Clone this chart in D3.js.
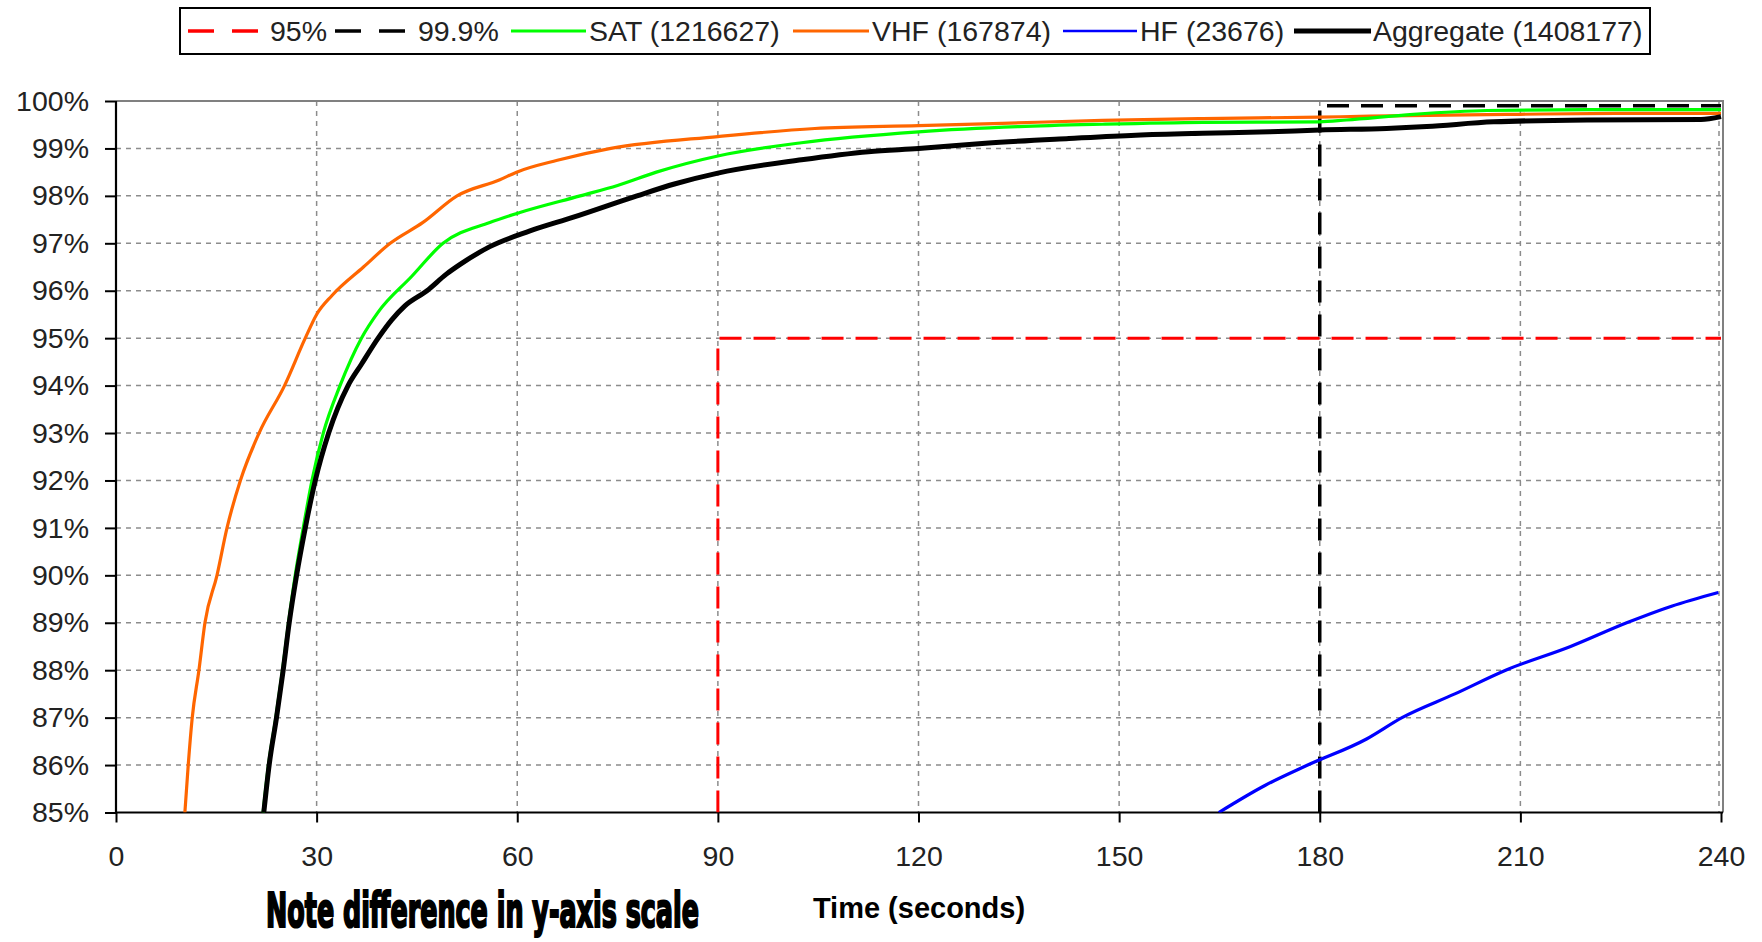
<!DOCTYPE html>
<html><head><meta charset="utf-8">
<script src="https://cdn.jsdelivr.net/npm/d3@7"></script>
<style>body{margin:0;background:#fff}svg{display:block}</style>
</head><body>
<svg id="c" width="1762" height="942"></svg>
<script>
// ---- data (time in seconds, cumulative percent) ----
const xTicks = [0, 30, 60, 90, 120, 150, 180, 210, 240];
const yTicks = [85, 86, 87, 88, 89, 90, 91, 92, 93, 94, 95, 96, 97, 98, 99, 100];
const satData = [[22,85],[22.8,86],[23.9,87],[24.9,88],[25.8,89],[26.8,90],[28,91],[29.3,92],[31,93],[33.5,94],[36.7,95],[39.2,95.55],[44.2,96.3],[48.9,97],[55.9,97.44],[60.4,97.65],[69.4,98],[75,98.22],[80.8,98.5],[90,98.84],[102.5,99.12],[120,99.35],[135,99.46],[147.5,99.51],[162.5,99.55],[180,99.56],[184,99.6],[194,99.72],[205,99.8],[220,99.82],[240,99.82]];
const vhfData = [[10.3,85],[10.8,86],[11.4,87],[12.4,88],[13.3,89],[15.1,90],[16.6,91],[18.6,92],[21.4,93],[25.2,94],[28.3,95],[30,95.5],[32.3,95.9],[37,96.5],[41,97],[45.9,97.44],[51,98],[57.4,98.34],[59.9,98.5],[66,98.75],[74,99],[90,99.25],[104.5,99.42],[120,99.48],[132.5,99.53],[147.5,99.59],[162.5,99.63],[180,99.66],[187.5,99.68],[210,99.72],[225,99.74],[240,99.74]];
const hfData = [[164.9,85],[171.8,85.57],[178.2,86],[187,86.55],[192.3,87],[200.2,87.5],[207.8,88],[217.5,88.5],[225.9,89],[232.6,89.35],[239.6,89.64]];
const aggData = [[22.1,85],[22.9,86],[24,87],[25,88],[25.9,89],[27,90],[28.3,91],[29.8,92],[31.8,93],[34.7,94],[36.7,94.45],[39.2,95],[41.2,95.38],[43.2,95.68],[46.5,96],[49.4,96.35],[51.4,96.55],[55.9,96.93],[61.9,97.26],[68.4,97.55],[77.9,98],[83.5,98.25],[90,98.48],[102.5,98.76],[112.5,98.93],[120,99],[130,99.11],[142.5,99.21],[152.5,99.28],[162.5,99.32],[172.5,99.35],[180,99.39],[190,99.42],[196,99.46],[206,99.56],[220,99.6],[237,99.61],[240,99.67]];
const ref95 = [[90,85],[90,95],[240,95]];
const ref999 = [[180,85],[180,99.9],[240,99.9]];
const legendLabels = ["95%", "99.9%", "SAT (1216627)", "VHF (167874)", "HF (23676)", "Aggregate (1408177)"];

// ---- layout ----
const L = 116, R = 1721, T = 101, B = 812.5;
const svg = d3.select("#c");
const x = d3.scaleLinear().domain([0, 240]).range([L, R]);
const y = d3.scaleLinear().domain([85, 100]).range([B, T]);
const FONT = "'Liberation Sans', Arial, sans-serif";

svg.append("defs").append("clipPath").attr("id", "pc")
  .append("rect").attr("x", L).attr("y", T - 3).attr("width", R - L + 2).attr("height", B - T + 3);

// gridlines
const g = svg.append("g");
g.selectAll(".hg").data(yTicks.filter(v => v > 85 && v < 100)).join("line")
  .attr("x1", L).attr("x2", R).attr("y1", d => y(d)).attr("y2", d => y(d))
  .attr("stroke", "#8c8c8c").attr("stroke-width", 1.5).attr("stroke-dasharray", "5,5");
g.selectAll(".vg").data(xTicks.filter(v => v > 0)).join("line")
  .attr("x1", d => x(d) - (d === 240 ? 2 : 0)).attr("x2", d => x(d) - (d === 240 ? 2 : 0))
  .attr("y1", T).attr("y2", B)
  .attr("stroke", "#8c8c8c").attr("stroke-width", 1.5).attr("stroke-dasharray", "5,5");
// top and right border
svg.append("path").attr("d", `M${L},${T}H${R + 2}V${B}`).attr("fill", "none")
  .attr("stroke", "#808080").attr("stroke-width", 2);

// axes
const yAxis = d3.axisLeft(y).tickValues(yTicks).tickFormat(d => d + "%").tickSize(11).tickPadding(16);
const xAxis = d3.axisBottom(x).tickValues(xTicks).tickSize(10).tickPadding(23);
const ya = svg.append("g").attr("transform", `translate(${L},0)`).call(yAxis);
const xa = svg.append("g").attr("transform", `translate(0,${B})`).call(xAxis);
[ya, xa].forEach(a => {
  a.select(".domain").attr("stroke", "#000").attr("stroke-width", 2.2);
  a.selectAll(".tick line").attr("stroke", "#000").attr("stroke-width", 2);
  a.selectAll("text").attr("font-family", FONT).attr("font-size", 28.5).attr("fill", "#222");
});
ya.select(".domain").attr("d", `M0,${T}V${B}`);
xa.select(".domain").attr("d", `M${L},0H${R + 2}`);

// lines
const line = d3.line().x(d => x(d[0])).y(d => y(d[1]));
const curve = d3.line().curve(d3.curveMonotoneX).x(d => x(d[0])).y(d => y(d[1]));
const plot = svg.append("g").attr("clip-path", "url(#pc)");
plot.append("path").datum(ref95).attr("d", line).attr("fill", "none")
  .attr("stroke", "#ff0000").attr("stroke-width", 3).attr("stroke-dasharray", "22,12");
plot.append("path").datum(ref999).attr("d", line).attr("fill", "none")
  .attr("stroke", "#000").attr("stroke-width", 3.5).attr("stroke-dasharray", "22,12");
plot.append("path").datum(vhfData).attr("d", curve).attr("fill", "none")
  .attr("stroke", "#ff6600").attr("stroke-width", 3.2);
plot.append("path").datum(satData).attr("d", curve).attr("fill", "none")
  .attr("stroke", "#00ff00").attr("stroke-width", 3.2);
plot.append("path").datum(hfData).attr("d", curve).attr("fill", "none")
  .attr("stroke", "#0000ff").attr("stroke-width", 3.2);
plot.append("path").datum(aggData).attr("d", curve).attr("fill", "none")
  .attr("stroke", "#000").attr("stroke-width", 5);

// legend
const lg = svg.append("g");
lg.append("rect").attr("x", 180).attr("y", 8).attr("width", 1470).attr("height", 46)
  .attr("fill", "#fff").attr("stroke", "#000").attr("stroke-width", 2);
const legItems = [
  {x1: 188, x2: 258, tx: 270, color: "#ff0000", w: 3.5, dash: "26,18"},
  {x1: 335, x2: 405, tx: 418, color: "#000", w: 3.5, dash: "26,18"},
  {x1: 511, x2: 586, tx: 589, color: "#00ff00", w: 3, dash: null},
  {x1: 793, x2: 869, tx: 872, color: "#ff6600", w: 3, dash: null},
  {x1: 1063, x2: 1137, tx: 1140, color: "#0000ff", w: 2.5, dash: null},
  {x1: 1294, x2: 1371, tx: 1373, color: "#000", w: 5, dash: null}
];
legItems.forEach((it, i) => {
  lg.append("line").attr("x1", it.x1).attr("x2", it.x2).attr("y1", 31).attr("y2", 31)
    .attr("stroke", it.color).attr("stroke-width", it.w).attr("stroke-dasharray", it.dash);
  lg.append("text").attr("x", it.tx).attr("y", 31).attr("dy", "0.36em")
    .attr("font-family", FONT).attr("font-size", 28.5).attr("fill", "#222").text(legendLabels[i]);
});

// titles
svg.append("text").attr("x", 919).attr("y", 918).attr("text-anchor", "middle")
  .attr("font-family", FONT).attr("font-weight", "bold").attr("font-size", 29).text("Time (seconds)");
// condensed heavy note: fit natural width to 433px, stretch vertically
const note = svg.append("text").attr("x", 0).attr("y", 0)
  .attr("font-family", "'DejaVu Sans Condensed', 'DejaVu Sans', sans-serif").attr("font-weight", "bold")
  .attr("font-size", 48).attr("stroke", "#000").text("Note difference in y-axis scale");
const w0 = note.node().getComputedTextLength();
const k = 433 / w0;
note.attr("font-size", 48 * k).attr("stroke-width", 2.2 * k)
  .attr("transform", `translate(266,927) scale(1,${1 / k})`);
</script>
</body></html>
